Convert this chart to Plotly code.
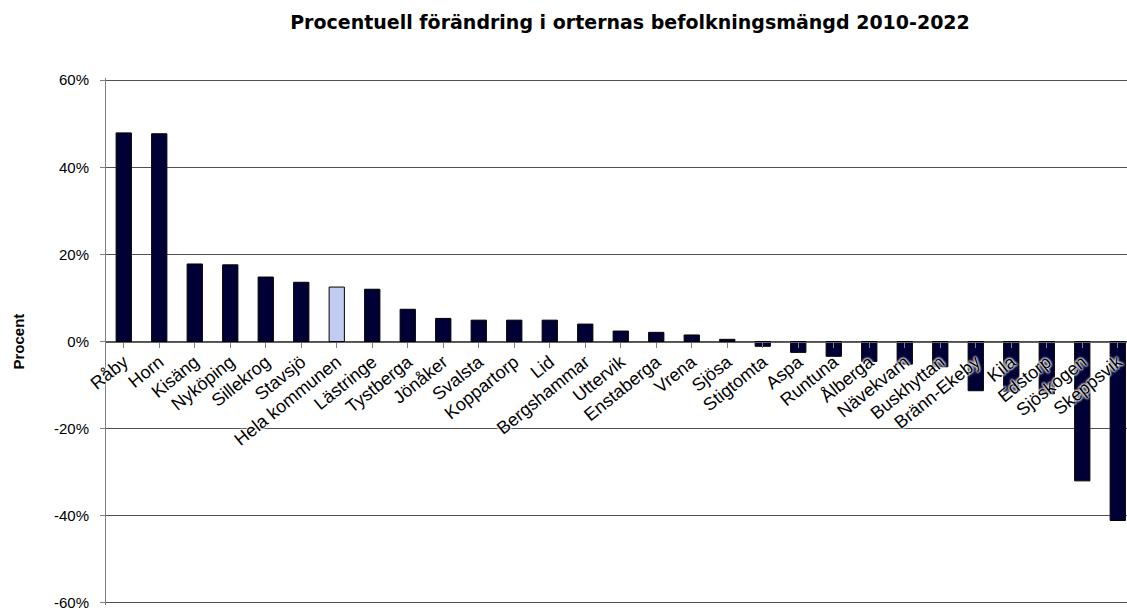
import plotly.graph_objects as go

places = ["Råby", "Horn", "Kisäng", "Nyköping", "Sillekrog", "Stavsjö", "Hela kommunen",
          "Lästringe", "Tystberga", "Jönåker", "Svalsta", "Koppartorp", "Lid", "Bergshammar",
          "Uttervik", "Enstaberga", "Vrena", "Sjösa", "Stigtomta", "Aspa", "Runtuna",
          "Ålberga", "Nävekvarn", "Buskhyttan", "Bränn-Ekeby", "Kila", "Edstorp",
          "Sjöskogen", "Skeppsvik"]
change_pct = [47.9, 47.7, 17.8, 17.6, 14.8, 13.6, 12.5,
              12.0, 7.4, 5.3, 4.9, 4.9, 4.9, 4.0,
              2.4, 2.1, 1.5, 0.5, -1.1, -2.5, -3.4,
              -4.6, -5.2, -5.8, -11.3, -11.5, -12.0,
              -32.0, -41.1]
highlight = "Hela kommunen"
y_ticks = [-60, -40, -20, 0, 20, 40, 60]

FONT = "Liberation Sans, Arial, sans-serif"
colors = ["#C0CCF2" if p == highlight else "#000036" for p in places]

fig = go.Figure()
fig.add_trace(go.Bar(
    x=list(range(len(places))), y=change_pct,
    marker=dict(color=colors, line=dict(color="#000000", width=1)),
    width=0.43, hoverinfo="skip"))

fig.update_layout(
    width=1127, height=611,
    margin=dict(l=106, r=0, t=78, b=6, autoexpand=False),
    paper_bgcolor="white", plot_bgcolor="white",
    showlegend=False,
    title=dict(text="<b>Procentuell förändring i orternas befolkningsmängd 2010-2022</b>",
               font=dict(family="DejaVu Sans, sans-serif", size=19, color="#000000"),
               x=630 / 1127, xref="container", xanchor="center",
               y=1 - 22 / 611, yref="container", yanchor="middle"),
    xaxis=dict(
        tickmode="array", tickvals=list(range(len(places))), ticktext=places,
        tickangle=-39, tickson="boundaries",
        range=[-0.5, 28.26],
        anchor="free", position=0.5, automargin=False,
        ticklabeloverflow="allow",
        showline=True, linecolor="#606060", linewidth=1,
        ticks="outside", ticklen=5, tickcolor="#808080",
        ticklabelstandoff=-3,
        showgrid=False, zeroline=False,
        tickfont=dict(family=FONT, size=18, color="#000000",
                      shadow="0 0 2px white, 0 0 2px white, 0 0 3px white, 0 0 3px white"),
        layer="above traces"),
    yaxis=dict(
        range=[-60.5, 60.5], tickvals=y_ticks, automargin=False,
        ticktext=[f"{v}%" for v in y_ticks],
        ticklabeloverflow="allow",
        showline=True, linecolor="#808080", linewidth=1,
        ticks="outside", ticklen=5, tickcolor="#808080",
        ticklabelstandoff=8,
        showgrid=True, gridcolor="#505050", gridwidth=1,
        zeroline=False,
        tickfont=dict(family=FONT, size=15, color="#000000")),
    annotations=[dict(
        text="<b>Procent</b>", textangle=-90,
        xref="paper", yref="paper",
        x=(18 - 106) / 1021, y=0.5,
        xanchor="center", yanchor="middle", showarrow=False,
        font=dict(family=FONT, size=15, color="#000000"))],
)

fig.write_html(
    "out.html",
    config={"displayModeBar": False},
    post_script="document.body.style.margin='0px';document.body.style.overflow='hidden';",
)
